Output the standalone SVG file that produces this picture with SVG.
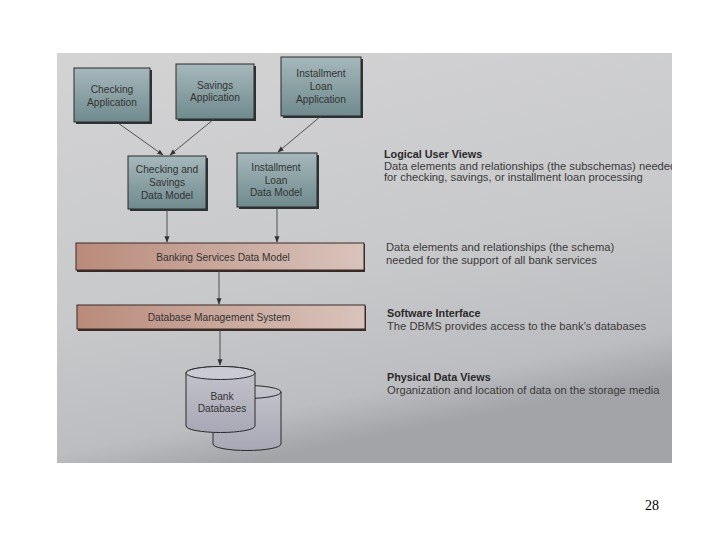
<svg xmlns="http://www.w3.org/2000/svg" width="720" height="540" viewBox="0 0 720 540">
<defs>
<linearGradient id="bg" x1="0" y1="0" x2="0.3" y2="1">
<stop offset="0" stop-color="#d3d3d4"/>
<stop offset="0.6" stop-color="#c8c9cb"/>
<stop offset="0.9" stop-color="#bcbdc0"/>
<stop offset="1" stop-color="#a2a4a8"/>
</linearGradient>
<linearGradient id="box" x1="0" y1="0" x2="0" y2="1">
<stop offset="0" stop-color="#a6b8bb"/>
<stop offset="1" stop-color="#6f8a8d"/>
</linearGradient>
<linearGradient id="bar" x1="0" y1="0" x2="1" y2="0">
<stop offset="0" stop-color="#b98a7a"/>
<stop offset="0.5" stop-color="#c9a89c"/>
<stop offset="1" stop-color="#d9c3bb"/>
</linearGradient>
<linearGradient id="cyl" x1="0" y1="0" x2="0" y2="1">
<stop offset="0" stop-color="#c4c4cc"/>
<stop offset="1" stop-color="#a8a8b6"/>
</linearGradient>
<clipPath id="photo"><rect x="57" y="53" width="615" height="410"/></clipPath>
<marker id="ah" viewBox="0 0 10 10" refX="9" refY="5" markerWidth="7" markerHeight="7" orient="auto">
<path d="M0,1 L10,5 L0,9 z" fill="#333"/>
</marker>
</defs>
<style>
.node rect.b{fill:url(#box);stroke:#2a2a2a;stroke-width:1}
.node rect.s{fill:#2e3436}
.t{font-family:"Liberation Sans",Arial,sans-serif;font-size:10.2px;fill:#333;text-anchor:middle}
.r{font-family:"Liberation Sans",Arial,sans-serif;font-size:11.2px;fill:#3a3a3a}
.h{font-weight:bold;fill:#2a2a2a;font-size:10.8px}
.bar{fill:url(#bar);stroke:#3a2a26;stroke-width:1}
.conn line{stroke:#444;stroke-width:0.9;marker-end:url(#ah)}
.cyl{fill:url(#cyl);stroke:#2a2a2a;stroke-width:1}
</style>
<rect width="720" height="540" fill="#ffffff"/>
<g clip-path="url(#photo)">
<rect x="57" y="53" width="615" height="410" fill="url(#bg)"/>

<g id="checking-app" class="node">
<rect class="s" x="76" y="70" width="76" height="54"/>
<rect class="b" x="74" y="68" width="76" height="54"/>
<text class="t" x="112" y="93">Checking</text>
<text class="t" x="112" y="106">Application</text>
</g>
<g id="savings-app" class="node">
<rect class="s" x="178" y="66" width="78" height="55"/>
<rect class="b" x="176" y="64" width="78" height="55"/>
<text class="t" x="215" y="89">Savings</text>
<text class="t" x="215" y="101">Application</text>
</g>
<g id="installment-app" class="node">
<rect class="s" x="283" y="59" width="80" height="59"/>
<rect class="b" x="281" y="57" width="80" height="59"/>
<text class="t" x="321" y="77">Installment</text>
<text class="t" x="321" y="90">Loan</text>
<text class="t" x="321" y="103">Application</text>
</g>
<g id="checking-savings-dm" class="node">
<rect class="s" x="130" y="158" width="78" height="53"/>
<rect class="b" x="128" y="156" width="78" height="53"/>
<text class="t" x="167" y="173">Checking and</text>
<text class="t" x="167" y="186">Savings</text>
<text class="t" x="167" y="199">Data Model</text>
</g>
<g id="installment-dm" class="node">
<rect class="s" x="239" y="155" width="80" height="54"/>
<rect class="b" x="237" y="153" width="80" height="54"/>
<text class="t" x="276" y="171">Installment</text>
<text class="t" x="276" y="184">Loan</text>
<text class="t" x="276" y="196">Data Model</text>
</g>
<g id="banking-dm" class="node">
<rect x="77" y="244" width="288" height="28" fill="#3a2a26"/>
<rect class="bar" x="76" y="243" width="288" height="27"/>
<text class="t" x="223" y="261">Banking Services Data Model</text>
</g>
<g id="dbms" class="node">
<rect x="78" y="306" width="288" height="25" fill="#3a2a26"/>
<rect class="bar" x="77" y="305" width="288" height="24"/>
<text class="t" x="219" y="321">Database Management System</text>
</g>
<g id="bank-databases" class="node">
<path class="cyl" d="M213,392 L213,444 A34,6.5 0 0 0 281,444 L281,392 A34,6.5 0 0 0 213,392 z"/>
<path d="M213,392 A34,6.5 0 0 0 281,392" fill="none" stroke="#2a2a2a" stroke-width="1"/>
<path class="cyl" d="M186,373 L186,426 A34.5,6.5 0 0 0 255,426 L255,373 A34.5,6.5 0 0 0 186,373 z"/>
<ellipse cx="220.5" cy="373" rx="34.5" ry="6.5" fill="#cacad2" stroke="#2a2a2a" stroke-width="1"/>
<text class="t" x="222" y="400">Bank</text>
<text class="t" x="222" y="412">Databases</text>
</g>

<g id="connectors" class="conn">
<line x1="118" y1="123" x2="163" y2="155"/>
<line x1="214" y1="119" x2="170" y2="155"/>
<line x1="321" y1="116" x2="278" y2="152"/>
<line x1="167" y1="210" x2="167" y2="242"/>
<line x1="277" y1="208" x2="277" y2="242"/>
<line x1="219" y1="271" x2="219" y2="304"/>
<line x1="220" y1="330" x2="220" y2="365"/>
</g>

<g id="labels">
<text class="r h" x="384" y="158">Logical User Views</text>
<text class="r" x="384" y="170">Data elements and relationships (the subschemas) needed</text>
<text class="r" x="384" y="181">for checking, savings, or installment loan processing</text>
<text class="r" x="386" y="251">Data elements and relationships (the schema)</text>
<text class="r" x="386" y="264">needed for the support of all bank services</text>
<text class="r h" x="387" y="317">Software Interface</text>
<text class="r" x="387" y="330">The DBMS provides access to the bank’s databases</text>
<text class="r h" x="387" y="381">Physical Data Views</text>
<text class="r" x="387" y="394">Organization and location of data on the storage media</text>
</g>
</g>
<text x="652" y="510" font-family="Liberation Serif,'Times New Roman',serif" font-size="14" fill="#000" text-anchor="middle">28</text>
</svg>
